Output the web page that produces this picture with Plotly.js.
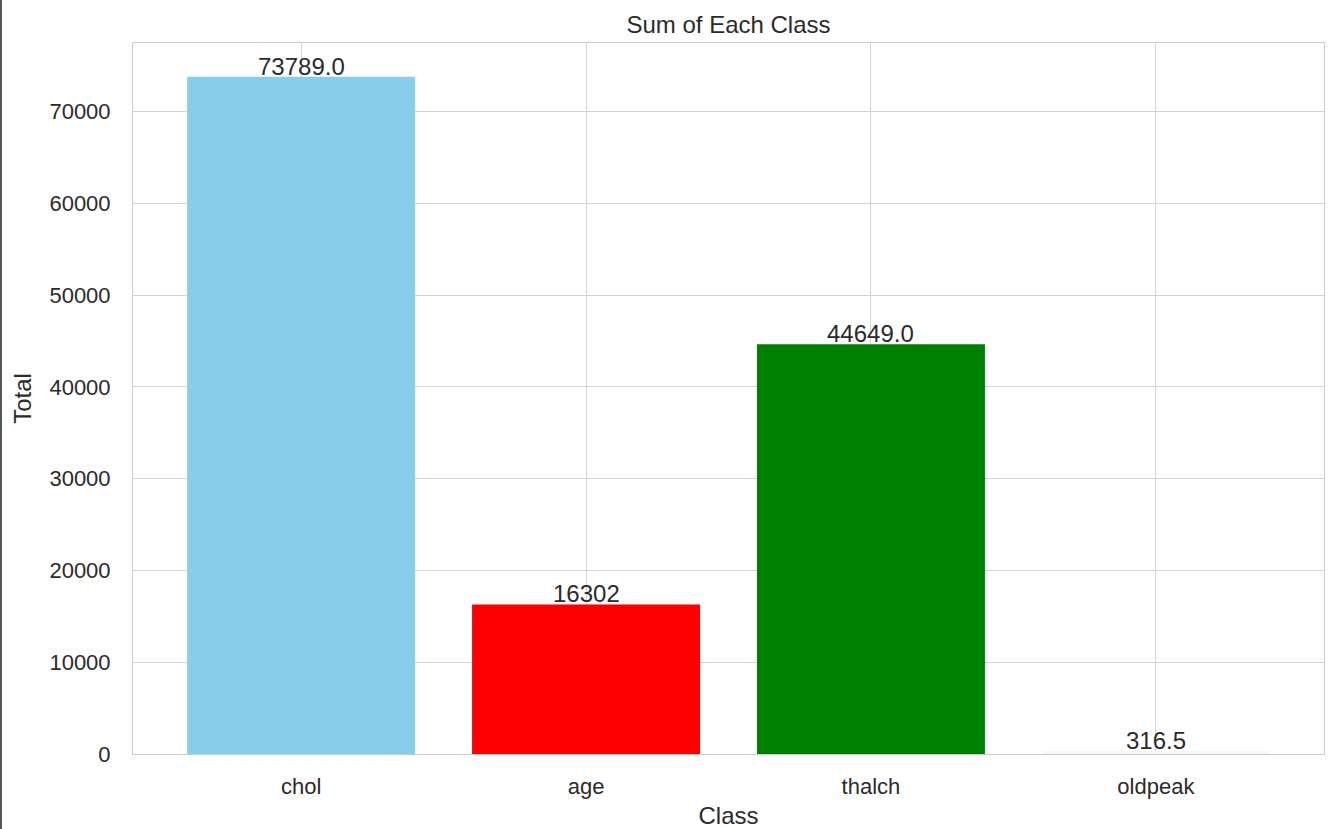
<!DOCTYPE html>
<html>
<head>
<meta charset="utf-8">
<script src="https://cdn.plot.ly/plotly-3.0.1.min.js"></script>
<style>
  html, body { margin: 0; padding: 0; background: #ffffff; }
  #chart { width: 1331px; height: 829px; border-left: 2px solid #555555; }
</style>
</head>
<body>
<div id="chart"></div>
<script>
// ---- data ----
const categories = ["chol", "age", "thalch", "oldpeak"];
const totals = [73789.0, 16302, 44649.0, 316.5];
const valueLabels = ["73789.0", "16302", "44649.0", "316.5"];
const barColors = ["#87CEEB", "#FF0000", "#008000", "#F6F6F6"];
const yTickValues = [0, 10000, 20000, 30000, 40000, 50000, 60000, 70000];

const fontFamily = "'Liberation Sans', Arial, 'DejaVu Sans', sans-serif";
const textColor = "#2b2b2b";

const trace = {
  type: "bar",
  x: categories,
  y: totals,
  width: 0.8,
  marker: { color: barColors, line: { width: 0 } },
  hoverinfo: "x+y",
  showlegend: false
};

const annotations = categories.map((c, i) => ({
  x: c,
  y: totals[i],
  xref: "x",
  yref: "y",
  text: valueLabels[i],
  showarrow: false,
  xanchor: "center",
  yanchor: "bottom",
  yshift: -5,
  font: { family: fontFamily, size: 24, color: textColor }
}));

const layout = {
  width: 1331,
  height: 829,
  margin: { l: 131, r: 9, t: 43, b: 75, pad: 0 },
  paper_bgcolor: "#ffffff",
  plot_bgcolor: "#ffffff",
  font: { family: fontFamily, color: textColor },
  title: {
    text: "Sum of Each Class",
    font: { family: fontFamily, size: 24, color: textColor },
    x: 0.5,
    xref: "paper",
    xanchor: "center",
    y: 1 - 25 / 829,
    yref: "container",
    yanchor: "middle"
  },
  xaxis: {
    type: "category",
    range: [-0.59, 3.59],
    showgrid: true,
    gridcolor: "#d4d4d4",
    gridwidth: 1,
    showline: true,
    linecolor: "#cccccc",
    linewidth: 1,
    mirror: true,
    ticks: "",
    ticklabelstandoff: 13,
    tickfont: { family: fontFamily, size: 22, color: textColor },
    zeroline: false,
    title: { text: "Class", standoff: 12, font: { family: fontFamily, size: 24, color: textColor } },
    fixedrange: true
  },
  yaxis: {
    range: [0, 77478.45],
    tickvals: yTickValues,
    ticktext: yTickValues.map(v => String(v)),
    showgrid: true,
    gridcolor: "#d4d4d4",
    gridwidth: 1,
    showline: true,
    linecolor: "#cccccc",
    linewidth: 1,
    mirror: true,
    ticks: "",
    ticklabelstandoff: 17,
    tickfont: { family: fontFamily, size: 22, color: textColor },
    zeroline: false,
    title: { text: "Total", standoff: 11, font: { family: fontFamily, size: 24, color: textColor } },
    fixedrange: true
  },
  annotations: annotations,
  bargap: 0.2
};

Plotly.newPlot("chart", [trace], layout, { displayModeBar: false, staticPlot: true });
</script>
</body>
</html>
